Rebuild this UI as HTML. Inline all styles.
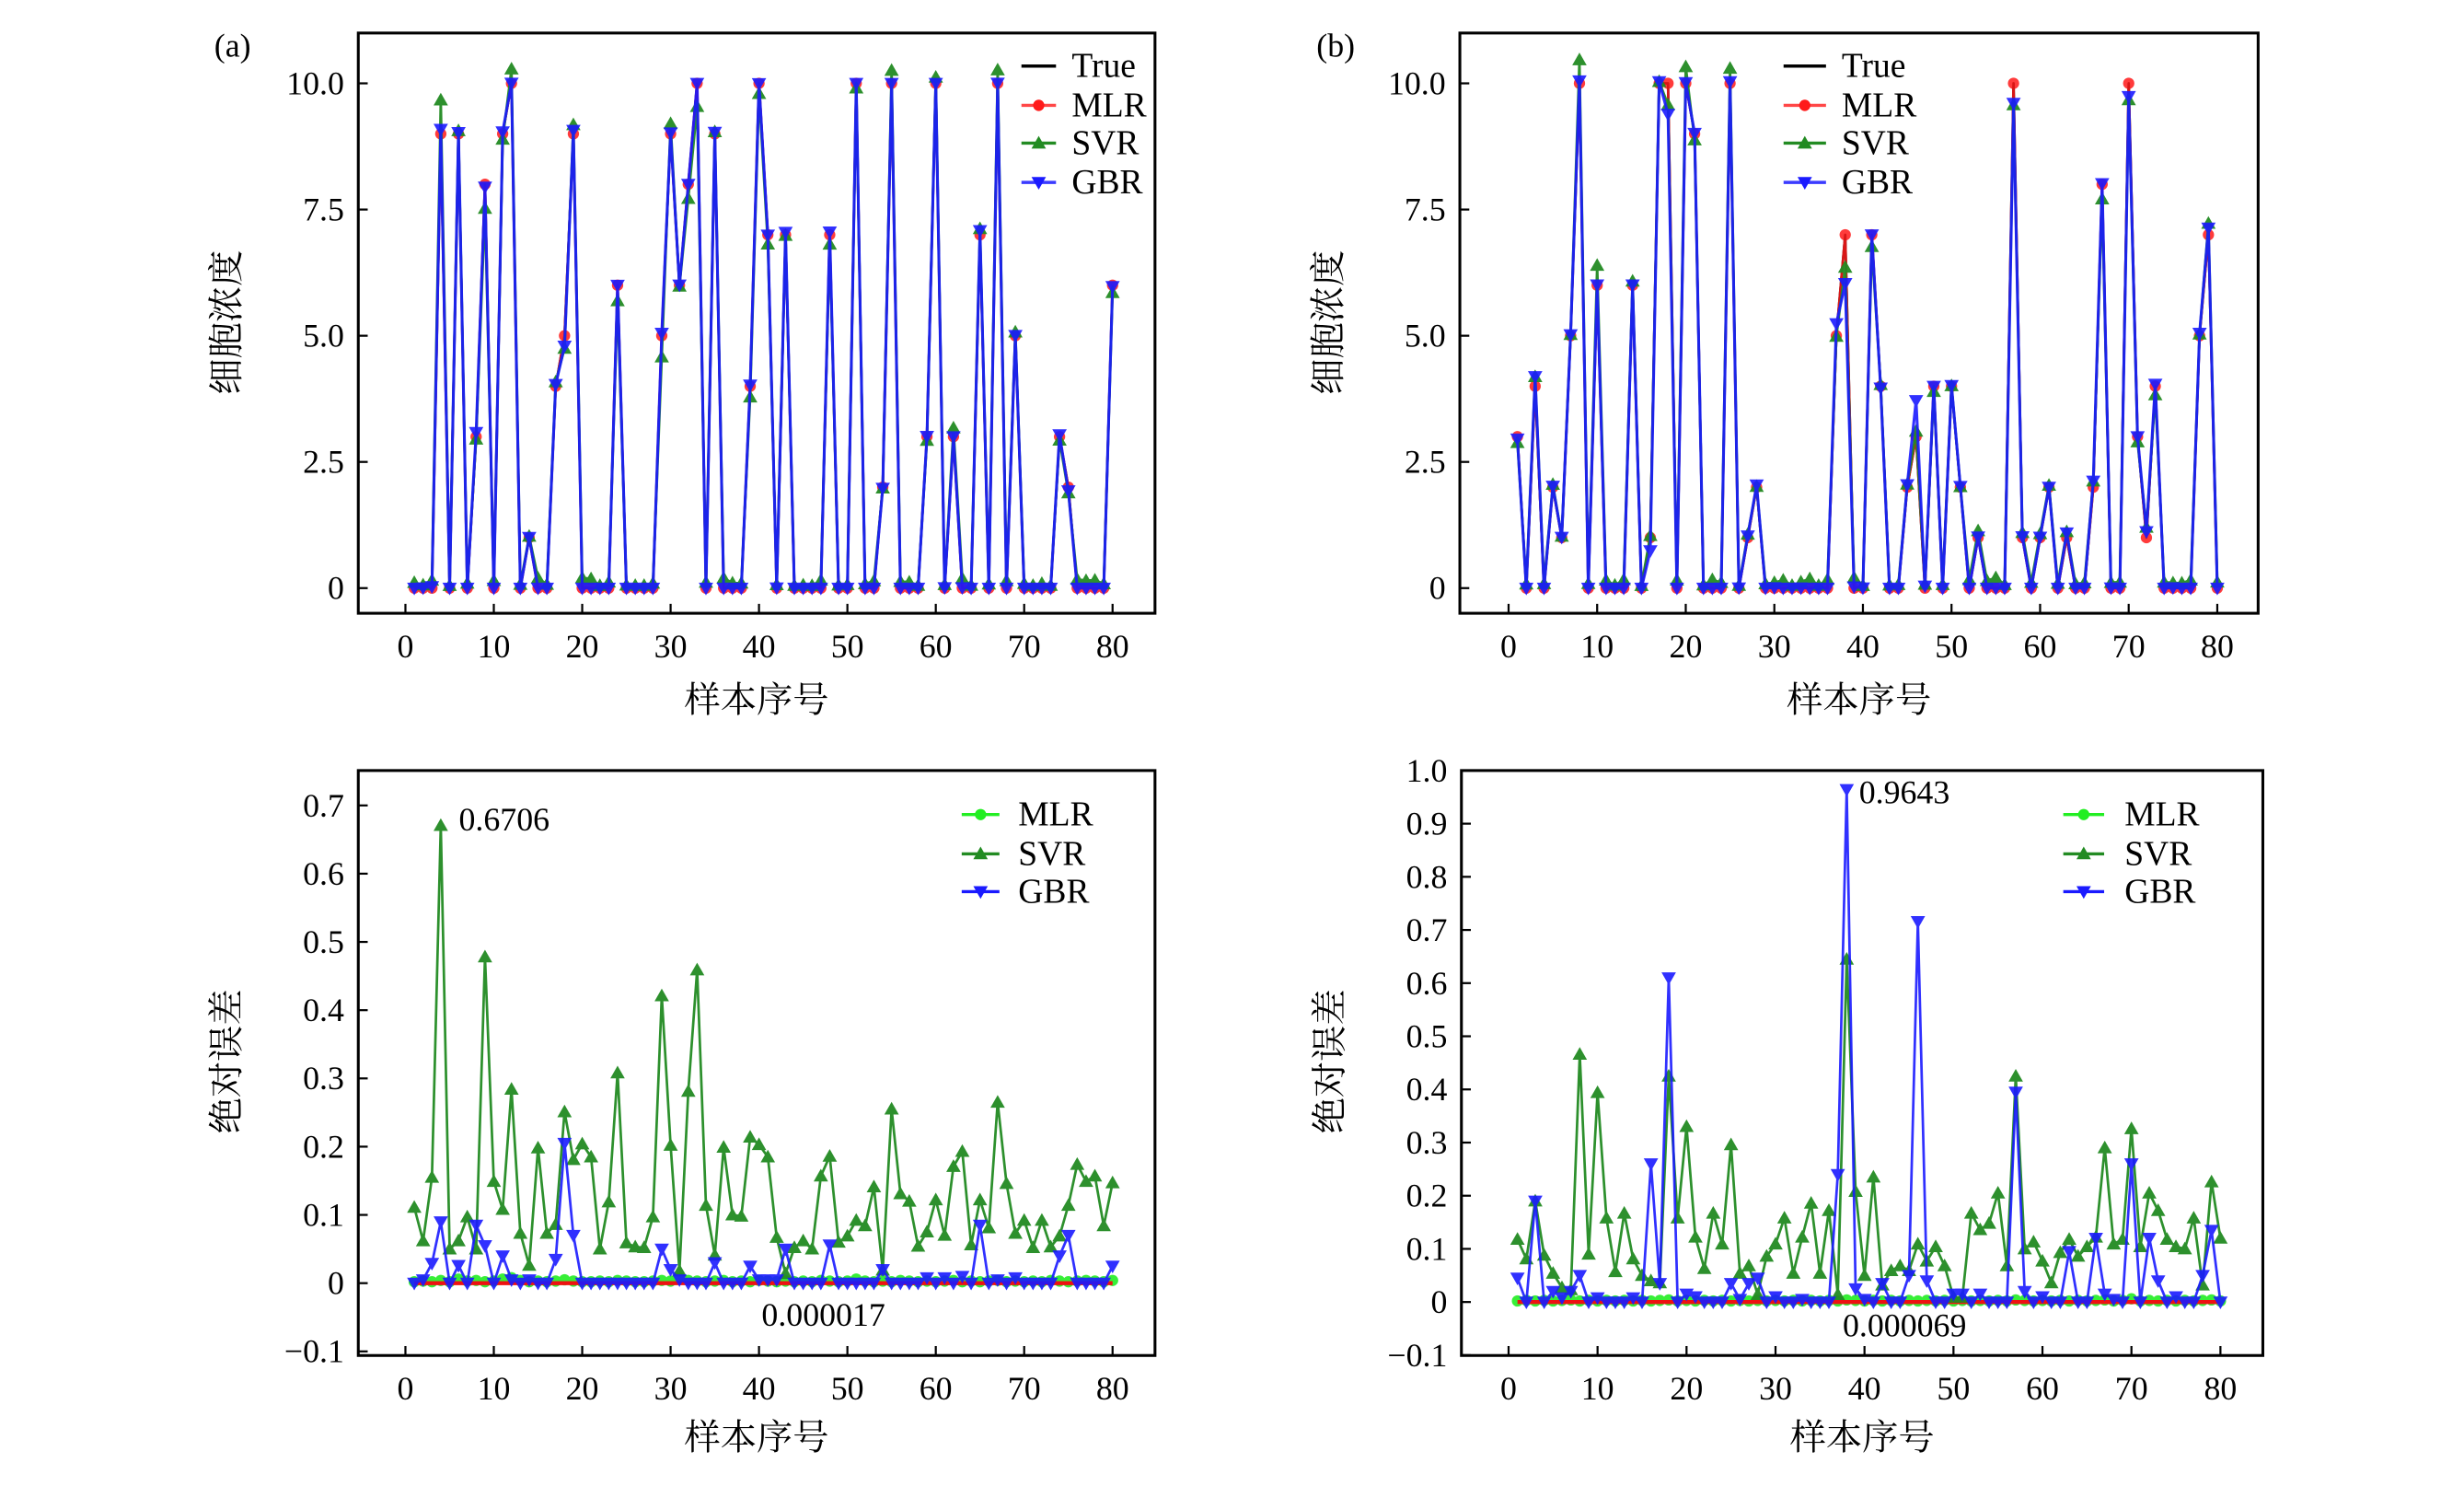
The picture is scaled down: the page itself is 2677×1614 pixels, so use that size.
<!DOCTYPE html>
<html><head><meta charset="utf-8">
<style>
html,body{margin:0;padding:0;background:#fff;}
svg{display:block;}
text{font-family:"Liberation Serif","Noto Serif CJK SC",serif;fill:#000;}
</style></head>
<body>
<svg id="fig" xmlns="http://www.w3.org/2000/svg" width="2677" height="1614" viewBox="0 0 1568 945" preserveAspectRatio="none"></svg>
<script>
// ---------- data ----------
const sampleIdx = Array.from({length:80},(_,i)=>i+1);
const trueA = [0,0,0,9,0,9,0,3,8,0, 9,10,0,1,0,0,4,5,9,0, 0,0,0,6,0,0,0,0,5,9, 6,8,10,0,9,0,0,0,4,10, 7,0,7,0,0,0,0,7,0,0, 10,0,0,2,10,0,0,0,3,10, 0,3,0,0,7,0,10,0,5,0, 0,0,0,3,2,0,0,0,0,6];
const trueB = [3,0,4,0,2,1,5,10,0,6, 0,0,0,6,0,1,10,10,0,10, 9,0,0,0,10,0,1,2,0,0, 0,0,0,0,0,0,5,7,0,0, 7,4,0,0,2,3,0,4,0,4, 2,0,1,0,0,0,10,1,0,1, 2,0,1,0,0,2,8,0,0,10, 3,1,4,0,0,0,0,5,7,0];
const mlrErrA = [0.002,0.003,0.002,0.004,0.002,0.006,0.003,0.004,0.002,0.003, 0.006,0.008,0.004,0.002,0.003,0.002,0.003,0.005,0.003,0.002, 0.002,0.003,0.002,0.004,0.003,0.002,0.002,0.003,0.004,0.003, 0.007,0.004,0.003,0.002,0.003,0.004,0.002,0.003,0.002,0.004, 0.003,0.002,0.003,0.002,0.003,0.002,0.004,0.003,0.002,0.003, 0.006,0.003,0.002,0.003,0.002,0.004,0.003,0.002,0.003,0.002, 0.003,0.004,0.002,0.003,0.002,0.003,0.004,0.002,0.003,0.002, 0.003,0.002,0.004,0.003,0.002,0.003,0.004,0.003,0.002,0.004];
const svrErrA = [0.111,0.062,0.155,0.6706,0.05,0.062,0.097,0.05,0.478,0.149, 0.108,0.284,0.073,0.026,0.198,0.073,0.086,0.251,0.181,0.204, 0.185,0.05,0.119,0.308,0.059,0.053,0.052,0.097,0.421,0.202, 0.018,0.281,0.459,0.114,0.041,0.199,0.1,0.098,0.214,0.203, 0.185,0.067,0.014,0.052,0.062,0.05,0.157,0.186,0.06,0.069, 0.092,0.084,0.141,0.019,0.255,0.131,0.12,0.054,0.075,0.122, 0.07,0.171,0.193,0.056,0.122,0.081,0.265,0.146,0.073,0.092, 0.052,0.092,0.053,0.069,0.114,0.174,0.149,0.157,0.084,0.147];
const gbrErrA = [0,0.005,0.029,0.09,0,0.026,0,0.085,0.055,0, 0.04,0.005,0,0.005,0,0,0.035,0.205,0.07,0, 0,0,0,0,0,0,0,0,0.05,0.02, 0.005,0,0,0,0.03,0,0,0,0.025,0.005, 0.005,0.005,0.05,0,0,0,0,0.056,0,0, 0,0,0,0.02,0,0,0,0,0.008,0, 0.008,0,0.01,0,0.085,0,0.005,0,0.008,0, 0,0,0,0.04,0.07,0,0,0,0,0.025];
const mlrErrB = [0.002,0.003,0.002,0.003,0.002,0.003,0.004,0.002,0.003,0.002, 0.003,0.002,0.003,0.002,0.003,0.002,0.003,0.004,0.002,0.003, 0.002,0.003,0.002,0.003,0.002,0.003,0.002,0.003,0.002,0.003, 0.002,0.003,0.002,0.003,0.002,0.003,0.002,0.004,0.003,0.002, 0.003,0.002,0.003,0.002,0.003,0.002,0.003,0.002,0.003,0.002, 0.003,0.002,0.003,0.002,0.003,0.002,0.004,0.003,0.002,0.003, 0.002,0.003,0.002,0.003,0.002,0.003,0.004,0.002,0.003,0.006, 0.002,0.003,0.002,0.003,0.002,0.003,0.002,0.003,0.004,0.002];
const svrErrB = [0.118,0.081,0.19,0.088,0.054,0.027,0.023,0.466,0.09,0.394, 0.158,0.057,0.167,0.081,0.05,0.04,0.036,0.425,0.158,0.33, 0.122,0.063,0.167,0.109,0.296,0.054,0.068,0.014,0.086,0.109, 0.158,0.054,0.122,0.186,0.054,0.172,0.014,0.645,0.208,0.05, 0.235,0.032,0.059,0.068,0.059,0.109,0.077,0.104,0.068,0.009, 0.009,0.167,0.136,0.148,0.205,0.068,0.425,0.1,0.113,0.077, 0.036,0.093,0.118,0.086,0.104,0.122,0.29,0.109,0.118,0.326, 0.104,0.205,0.172,0.118,0.104,0.1,0.158,0.032,0.226,0.12];
const gbrErrB = [0.045,0,0.19,0,0.02,0.008,0.02,0.05,0,0.008, 0,0,0,0.008,0,0.26,0.035,0.61,0,0.015, 0.01,0,0,0,0.035,0.005,0.035,0.045,0,0.01, 0,0,0.005,0,0,0,0.24,0.9643,0.025,0.005, 0,0.035,0,0,0.05,0.716,0.04,0,0,0.015, 0.015,0,0.015,0,0,0,0.395,0.02,0,0.01, 0,0,0.095,0,0,0.12,0.015,0.005,0,0.26, 0,0.12,0.04,0,0.01,0,0,0.05,0.135,0];
// indices (1-based) where predictions fall below the true value
const svrDownA = [8,9,11,18,24,29,31,32,33,39,40,41,43,48,51,54,59,74,75,80];
const gbrDownA = [9,18,33,40,41,54,75,80];
const svrDownB = [1,18,21,37,38,41,48,57,67,70,71,73];
const gbrDownB = [1,16,18,38,42,57,70,71];
const topTicks = [0,2.5,5,7.5,10];
const topTickLabels = ["0","2.5","5.0","7.5","10.0"];
const xTicks = [0,10,20,30,40,50,60,70,80];
const botTicksA = [-0.1,0,0.1,0.2,0.3,0.4,0.5,0.6,0.7];
const botTickLabelsA = ["\u22120.1","0","0.1","0.2","0.3","0.4","0.5","0.6","0.7"];
const botTicksB = [-0.1,0,0.1,0.2,0.3,0.4,0.5,0.6,0.7,0.8,0.9,1.0];
const botTickLabelsB = ["\u22120.1","0","0.1","0.2","0.3","0.4","0.5","0.6","0.7","0.8","0.9","1.0"];

// ---------- helpers ----------
const NS="http://www.w3.org/2000/svg";
const svg=document.getElementById('fig');
function mk(tag,attrs,parent){const e=document.createElementNS(NS,tag);for(const k in attrs)e.setAttribute(k,attrs[k]);(parent||svg).appendChild(e);return e;}
const C={red:'#ff1a1a',green:'#228b22',blue:'#1a1aff',lime:'#22ee22'};

function marker(g,type,x,y,color){
  let m;
  if(type==='o'){m=mk('circle',{cx:x,cy:y,r:3.6,fill:color},g);}
  else if(type==='^'){const s=4.6;m=mk('polygon',{points:`${x},${y-s} ${x-s},${y+s*0.75} ${x+s},${y+s*0.75}`,fill:color},g);}
  else {const s=4.6;m=mk('polygon',{points:`${x},${y+s} ${x-s},${y-s*0.75} ${x+s},${y-s*0.75}`,fill:color},g);}
  return m;
}
function series(g,name,xs,ys,sx,sy,color,mtype,lw,op){
  const sg=mk('g',{opacity:op},g);
  
  
  const pts=xs.map((x,i)=>sx(x).toFixed(2)+','+sy(ys[i]).toFixed(2)).join(' ');
  const pl=mk('polyline',{points:pts,fill:'none',stroke:color,'stroke-width':lw,'stroke-linejoin':'round'},sg);
  
  
  if(mtype){xs.forEach((x,i)=>{const m=marker(sg,mtype,sx(x),sy(ys[i]),color);
    
    });}
}
function pred(truth,err,down){return truth.map((t,i)=>down.includes(i+1)?t-err[i]:t+err[i]);}

function axesFrame(p,name,yT,yL,sy,sx){
  const g=mk('g',{});
  
  
  xTicks.forEach(v=>{const x=sx(v);
    mk('line',{x1:x,x2:x,y1:p.b,y2:p.b-6,stroke:'#000','stroke-width':1.3},g);
    const t=mk('text',{x:x,y:p.b+28,'font-size':21,'text-anchor':'middle'},g);t.textContent=v;
    
    });
  yT.forEach((v,i)=>{const y=sy(v);
    mk('line',{x1:p.l,x2:p.l+6,y1:y,y2:y,stroke:'#000','stroke-width':1.3},g);
    const t=mk('text',{x:p.l-9,y:y+7,'font-size':21,'text-anchor':'end'},g);t.textContent=yL[i];
    
    });
  return g;
}
function frame(p){const r=mk('rect',{x:p.l,y:p.t,width:p.r-p.l,height:p.b-p.t,fill:'none',stroke:'#000','stroke-width':1.8});
  
  }
function label(txt,x,y,rot,name,size){
  const t=mk('text',{x:x,y:y,'font-size':size||22,'text-anchor':'middle',transform:rot?`rotate(-90 ${x} ${y})`:''});
  t.textContent=txt;
  
  
  return t;
}
function legend(name,x0,x1,tx,ys,items){
  const g=mk('g',{});
  
  
  items.forEach((it,i)=>{
    mk('line',{x1:x0,x2:x1,y1:ys[i],y2:ys[i],stroke:it.c,'stroke-width':2,opacity:it.op||1},g);
    if(it.m){const m=marker(g,it.m,(x0+x1)/2,ys[i],it.c);}
    const t=mk('text',{x:tx,y:ys[i]+7,'font-size':22},g);t.textContent=it.t;
    
    
  });
}

// ---------- top panels ----------
function topPanel(p,truth,svrErr,gbrErr,svrDown,gbrDown,tag,lg){
  const sx=v=>p.x0+(v)*(p.x80-p.x0)/80;
  const sy=v=>p.y0-(v)*(p.y0-p.y10)/10;
  axesFrame(p,tag+'-top',topTicks,topTickLabels,sy,sx);
  const g=mk('g',{});
  
  
  series(g,'true-series',sampleIdx,truth,sx,sy,'#000',null,1.6,1);
  series(g,'mlr-series',sampleIdx,truth,sx,sy,C.red,'o',1.6,0.85);
  series(g,'svr-series',sampleIdx,pred(truth,svrErr,svrDown),sx,sy,C.green,'^',1.6,0.95);
  series(g,'gbr-series',sampleIdx,pred(truth,gbrErr,gbrDown),sx,sy,C.blue,'v',1.8,0.9);
  frame(p);
  legend(tag+'-top-legend',lg.x0,lg.x1,lg.tx,[42,67,91,116],[
    {t:'True',c:'#000'},{t:'MLR',c:C.red,m:'o',op:0.8},{t:'SVR',c:C.green,m:'^'},{t:'GBR',c:C.blue,m:'v',op:0.85}]);
  label('细胞浓度',p.l-76,205,true,tag+'-top-y-axis-title',23);
  label('样本序号',(p.l+p.r)/2,453,false,tag+'-top-x-axis-title',23);
}
function botPanel(p,mlrErr,svrErr,gbrErr,ticks,tickLabels,tag,lg,ann){
  const sx=v=>p.x0+(v)*(p.x80-p.x0)/80;
  const sy=v=>p.yz-(v)*p.k;
  axesFrame(p,tag+'-bottom',ticks,tickLabels,sy,sx);
  const g=mk('g',{});
  
  
  series(g,'mlr-error-series',sampleIdx,mlrErr,sx,sy,C.lime,'o',1.6,0.9);
  const zl=mk('line',{x1:sx(1),x2:sx(80),y1:sy(0),y2:sy(0),stroke:'#ee1111','stroke-width':2.6},g);
  
  
  series(g,'svr-error-series',sampleIdx,svrErr,sx,sy,C.green,'^',1.6,0.95);
  series(g,'gbr-error-series',sampleIdx,gbrErr,sx,sy,C.blue,'v',1.6,0.9);
  frame(p);
  legend(tag+'-bottom-legend',lg.x0,lg.x1,lg.tx,[518,543,567],[
    {t:'MLR',c:C.lime,m:'o'},{t:'SVR',c:C.green,m:'^'},{t:'GBR',c:C.blue,m:'v'}]);
  const a1=mk('text',{x:ann.x1,y:ann.y1,'font-size':21});a1.textContent=ann.t1;
  
  
  const a2=mk('text',{x:ann.x2,y:ann.y2,'font-size':21,'text-anchor':'middle'});a2.textContent=ann.t2;
  
  
  label('绝对误差',p.l-76,675,true,tag+'-bottom-y-axis-title',23);
  label('样本序号',(p.l+p.r)/2,922,false,tag+'-bottom-x-axis-title',23);
}

const pa={l:228,r:735,t:21,b:390,x0:258,x80:708,y0:374,y10:53};
const pb={l:929,r:1437,t:21,b:390,x0:960,x80:1411,y0:374,y10:53};
topPanel(pa,trueA,svrErrA,gbrErrA,svrDownA,gbrDownA,'a',{x0:650,x1:672,tx:682});
topPanel(pb,trueB,svrErrB,gbrErrB,svrDownB,gbrDownB,'b',{x0:1135,x1:1162,tx:1172});
const qa={l:228,r:735,t:490,b:862,x0:258,x80:708,yz:816,k:434};
const qb={l:930,r:1440,t:490,b:862,x0:960,x80:1413,yz:828,k:338};
botPanel(qa,mlrErrA,svrErrA,gbrErrA,botTicksA,botTickLabelsA,'a',{x0:612,x1:636,tx:648},{x1:292,y1:528,t1:'0.6706',x2:524,y2:843,t2:'0.000017'});
botPanel(qb,mlrErrB,svrErrB,gbrErrB,botTicksB,botTickLabelsB,'b',{x0:1313,x1:1339,tx:1352},{x1:1183,y1:511,t1:'0.9643',x2:1212,y2:850,t2:'0.000069'});

const la=label('(a)',148,36,false,'panel-label-a',21);
const lb=label('(b)',850,36,false,'panel-label-b',21);
</script>
</body></html>
